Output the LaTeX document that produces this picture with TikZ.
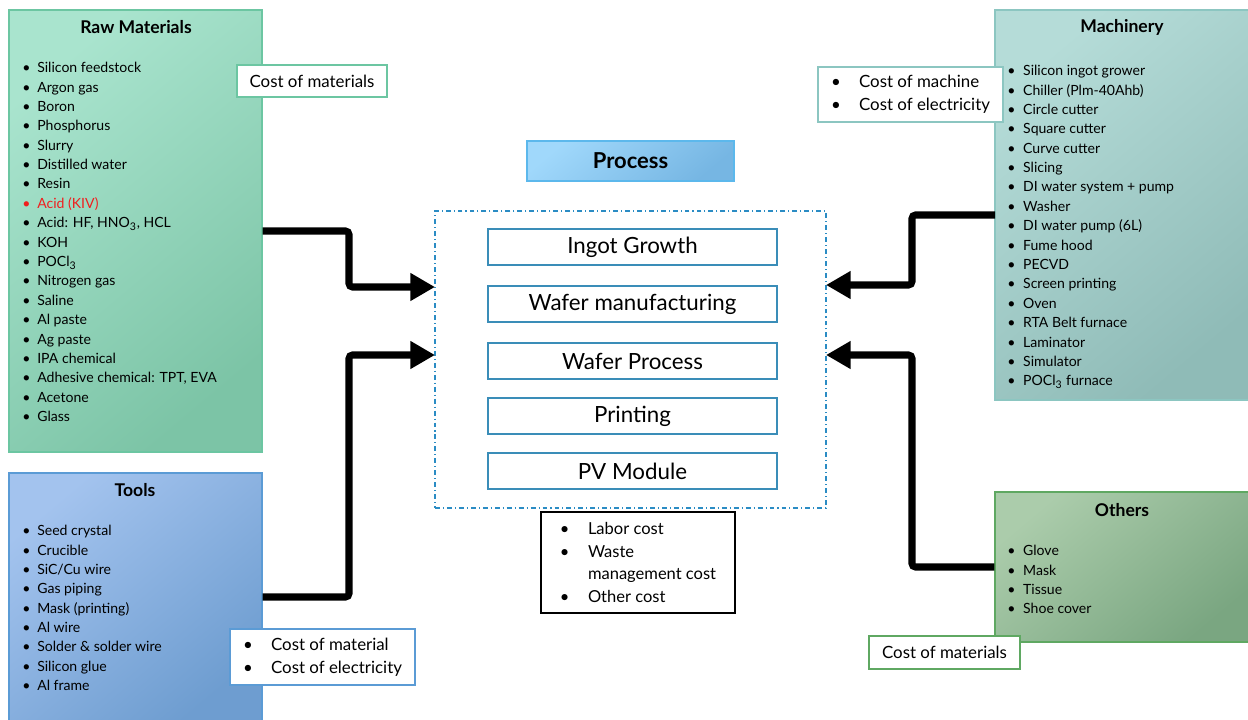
\documentclass[tikz,border=0pt]{standalone}
\usepackage{fontspec}
\setmainfont{Lato}
\usetikzlibrary{arrows.meta}
\usetikzlibrary{positioning}

\definecolor{rawA}{HTML}{A9E4CE}
\definecolor{rawB}{HTML}{7CC4A6}
\definecolor{rawE}{HTML}{6CC6A2}
\definecolor{toolA}{HTML}{A3C3EE}
\definecolor{toolB}{HTML}{6E9DD0}
\definecolor{toolE}{HTML}{5B9BD5}
\definecolor{machA}{HTML}{B5DCD8}
\definecolor{machB}{HTML}{8FBBB7}
\definecolor{machE}{HTML}{8CC6C1}
\definecolor{othA}{HTML}{ABCCAB}
\definecolor{othB}{HTML}{7AA681}
\definecolor{othE}{HTML}{5FA862}
\definecolor{procA}{HTML}{A0D8FB}
\definecolor{procB}{HTML}{76B6E3}
\definecolor{procE}{HTML}{5CB8EC}
\definecolor{stepC}{HTML}{3A8DB8}
\definecolor{dashC}{HTML}{2B8CC4}
\definecolor{acidC}{HTML}{F01E1E}

\newcommand{\itm}[2][8.5pt]{\makebox[#1][l]{\textbullet}#2}

\tikzset{
  box/.style={line width=0.8pt, inner sep=0pt},
  rawbox/.style={box, draw=rawE, top color=rawA, bottom color=rawB, shading angle=40},
  toolbox/.style={box, draw=toolE, top color=toolA, bottom color=toolB, shading angle=40},
  machbox/.style={box, draw=machE, top color=machA, bottom color=machB, shading angle=40},
  othbox/.style={box, draw=othE, top color=othA, bottom color=othB, shading angle=40},
  ttl/.style={font=\bfseries\fontsize{10}{11}\selectfont},
  lst/.style={font=\fontsize{8}{11.03}\selectfont, align=left, inner sep=0pt, anchor=north west},
  cost/.style={draw, fill=white, line width=0.9pt, align=left, inner sep=0pt,
    font=\fontsize{9.6}{12.9}\selectfont},
  stepbox/.style={draw=stepC, line width=1.1pt, fill=white, inner sep=0pt,
    minimum width=5.78cm, minimum height=0.72cm, font=\fontsize{12.7}{14}\selectfont},
  flow/.style={line width=4pt, rounded corners=2pt, -{Triangle[length=14pt,width=15pt]}}
}

\begin{document}
\begin{tikzpicture}[x=0.02cm, y=-0.02cm]
  \useasboundingbox (0,0) rectangle (1248,720);

  % input groups
  \node[rawbox, minimum width=5.06cm, minimum height=8.84cm] (raw) at (135.5,231) {};
  \node[toolbox, minimum width=5.06cm, minimum height=4.96cm] (tools) at (135.5,597) {};
  \node[machbox, minimum width=5.1cm, minimum height=7.8cm] (mach) at (1122.5,205) {};
  \node[othbox, minimum width=5.1cm, minimum height=3cm] (others) at (1122.5,567) {};

  \node[ttl] (rawT) at (136,27) {Raw Materials};
  \node[ttl] (toolsT) at (135,490) {Tools};
  \node[ttl] (machT) at (1122,27) {Machinery};
  \node[ttl] (othersT) at (1122,510) {Others};

  \node[lst] (rawL) at (22,62) {\itm{Silicon feedstock}\\ \itm{Argon gas}\\ \itm{Boron}\\
    \itm{Phosphorus}\\ \itm{Slurry}\\ \itm{Distilled water}\\ \itm{Resin}\\
    \textcolor{acidC}{\itm{Acid (KIV)}}\\ \itm{Acid: HF, HNO\textsubscript{3}, HCL}\\ \itm{KOH}\\
    \itm{POCl\textsubscript{3}}\\ \itm{Nitrogen gas}\\ \itm{Saline}\\ \itm{Al paste}\\
    \itm{Ag paste}\\ \itm{IPA chemical}\\ \itm{Adhesive chemical: TPT, EVA}\\
    \itm{Acetone}\\ \itm{Glass}};
  \node[lst] (toolsL) at (22,525) {\itm{Seed crystal}\\ \itm{Crucible}\\ \itm{SiC/Cu wire}\\
    \itm{Gas piping}\\ \itm{Mask (printing)}\\ \itm{Al wire}\\ \itm{Solder \& solder wire}\\
    \itm{Silicon glue}\\ \itm{Al frame}};
  \node[lst] (machL) at (1007,65) {\itm[9pt]{Silicon ingot grower}\\ \itm[9pt]{Chiller (Plm-40Ahb)}\\
    \itm[9pt]{Circle cutter}\\ \itm[9pt]{Square cutter}\\ \itm[9pt]{Curve cutter}\\
    \itm[9pt]{Slicing}\\ \itm[9pt]{DI water system + pump}\\ \itm[9pt]{Washer}\\
    \itm[9pt]{DI water pump (6L)}\\ \itm[9pt]{Fume hood}\\ \itm[9pt]{PECVD}\\
    \itm[9pt]{Screen printing}\\ \itm[9pt]{Oven}\\ \itm[9pt]{RTA Belt furnace}\\
    \itm[9pt]{Laminator}\\ \itm[9pt]{Simulator}\\ \itm[9pt]{POCl\textsubscript{3} furnace}};
  \node[lst] (othersL) at (1007,545) {\itm[9pt]{Glove}\\ \itm[9pt]{Mask}\\
    \itm[9pt]{Tissue}\\ \itm[9pt]{Shoe cover}};

  % process
  \node[box, draw=procE, top color=procA, bottom color=procB, shading angle=40,
    minimum width=4.14cm, minimum height=0.8cm, font=\bfseries\fontsize{12.5}{14}\selectfont]
    (procT) at (630.5,161) {Process};
  \node[draw=dashC, line width=1pt, dash pattern=on 2.8pt off 1.7pt on 0.6pt off 1.7pt,
    minimum width=7.82cm, minimum height=5.94cm] (proc) at (630.5,359.5) {};
  \node[stepbox] (ingot) at (632.5,247) {Ingot Growth};
  \node[stepbox] (wafer) at (632.5,304) {Wafer manufacturing};
  \node[stepbox] (wproc) at (632.5,361) {Wafer Process};
  \node[stepbox] (print) at (632.5,416) {Printing};
  \node[stepbox] (pv) at (632.5,471) {PV Module};
  \node[cost, draw=black, minimum width=3.88cm, minimum height=2.02cm,
    font=\fontsize{9.4}{12.9}\selectfont] (labor) at (638,562.5)
    {\itm[16pt]{Labor cost}\\ \itm[16pt]{Waste}\\ \hspace{16pt}management cost\\ \itm[16pt]{Other cost}};

  % connectors
  \coordinate (jL) at (349,0);
  \coordinate (jR) at (912,0);
  \coordinate (outM) at (995,215);
  \coordinate (inL1) at (435,287);
  \coordinate (inL2) at (435,355);
  \coordinate (inR1) at (826,285);
  \coordinate (inR2) at (826,355);
  \draw[flow] (raw.east) -- (raw.east -| jL) |- (inL1);
  \draw[flow] (tools.east) -- (tools.east -| jL) |- (inL2);
  \draw[flow] (outM) -- (outM -| jR) |- (inR1);
  \draw[flow] (others.west) -- (others.west -| jR) |- (inR2);

  % cost notes
  \node[cost, draw=rawE, minimum width=3cm, minimum height=0.64cm] (rawC) at (312,81) {Cost of materials};
  \node[cost, draw=machE, minimum width=3.7cm, minimum height=1.1cm] (machC) at (910.5,94.5)
    {\itm[16pt]{Cost of machine}\\ \itm[16pt]{Cost of electricity}};
  \node[cost, draw=toolE, minimum width=3.7cm, minimum height=1.12cm] (toolsC) at (322.5,657)
    {\itm[16pt]{Cost of material}\\ \itm[16pt]{Cost of electricity}};
  \node[cost, draw=othE, minimum width=3.02cm, minimum height=0.66cm] (othersC) at (944.5,652.5) {Cost of materials};
\end{tikzpicture}
\end{document}
